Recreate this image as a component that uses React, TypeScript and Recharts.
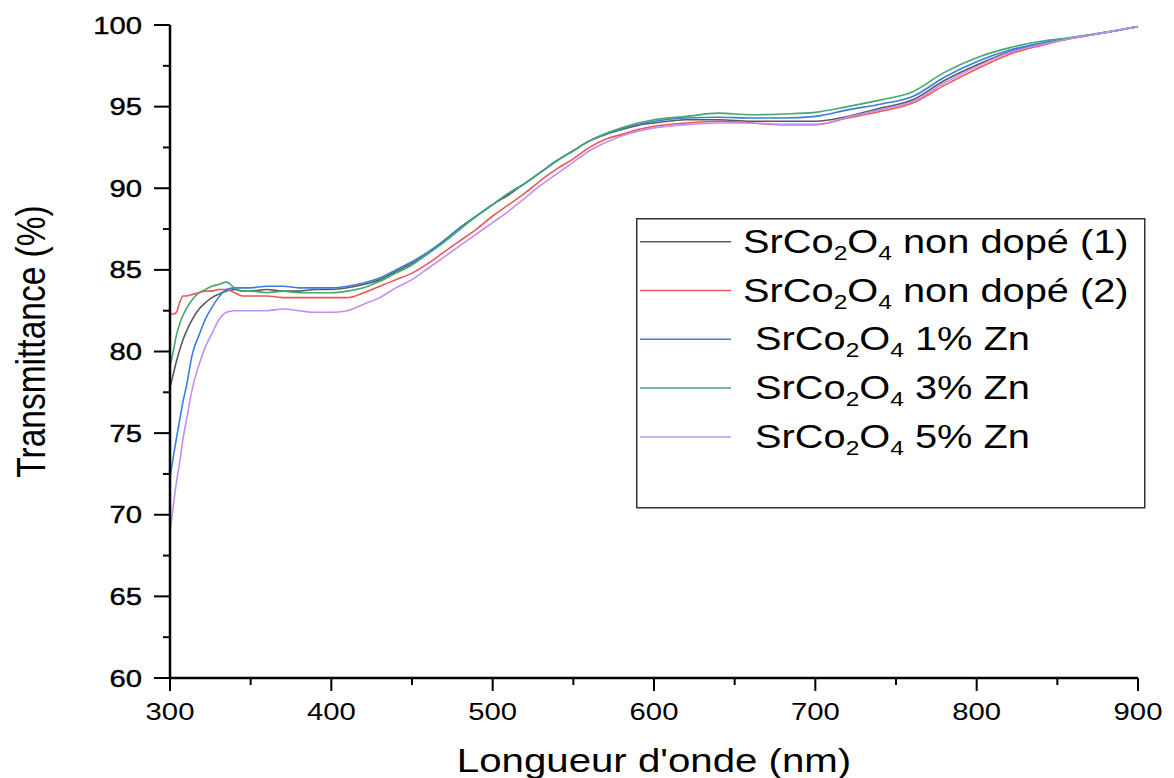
import { LineChart, Line, XAxis, YAxis, Legend } from 'recharts';

const wavelengths = [
  300, 302, 304, 306, 308, 310, 314, 318, 322, 326, 330, 335, 340, 345, 350,
  360, 370, 380, 390, 400, 410, 420, 430, 440, 450, 460, 470, 480, 490, 500,
  510, 520, 530, 540, 550, 560, 570, 580, 590, 600, 620, 640, 660, 680, 700,
  720, 740, 760, 780, 800, 820, 840, 860, 880, 900,
];

const nonDope1 = [
  77.8, 78.6, 79.4, 80.1, 80.7, 81.2, 82.0, 82.6, 83.0, 83.3, 83.5, 83.7, 83.8, 83.7, 83.7,
  83.8, 83.7, 83.7, 83.8, 83.8, 83.9, 84.1, 84.4, 84.9, 85.4, 86.0, 86.8, 87.6, 88.3, 89.0,
  89.6, 90.3, 91.0, 91.7, 92.3, 92.9, 93.3, 93.6, 93.85, 94.0, 94.2, 94.2, 94.1, 94.1, 94.1,
  94.4, 94.9, 95.4, 96.6, 97.55, 98.35, 98.85, 99.2, 99.55, 99.9,
];

const nonDope2 = [
  82.3, 82.3, 82.4, 83.0, 83.4, 83.4, 83.5, 83.6, 83.7, 83.7, 83.8, 83.8, 83.6, 83.4, 83.4,
  83.4, 83.3, 83.3, 83.3, 83.3, 83.3, 83.6, 84.0, 84.4, 84.8, 85.4, 86.1, 86.8, 87.5, 88.3,
  89.0, 89.7, 90.5, 91.2, 91.8, 92.5, 93.0, 93.3, 93.6, 93.8, 94.0, 94.1, 94.0, 93.9, 93.9,
  94.3, 94.7, 95.2, 96.3, 97.3, 98.2, 98.75, 99.2, 99.55, 99.9,
];

const zn1 = [
  72.3, 73.5, 74.7, 75.8, 76.9, 77.8, 79.9, 81.0, 82.0, 82.7, 83.3, 83.8, 83.9, 83.9, 83.9,
  84.0, 84.0, 83.9, 83.9, 83.9, 84.0, 84.2, 84.5, 85.0, 85.5, 86.1, 86.8, 87.6, 88.3, 89.0,
  89.7, 90.3, 91.0, 91.7, 92.3, 92.9, 93.3, 93.65, 93.9, 94.1, 94.3, 94.35, 94.3, 94.3, 94.4,
  94.8, 95.15, 95.6, 96.8, 97.75, 98.45, 98.9, 99.25, 99.55, 99.9,
];

const zn3 = [
  79.1, 80.0, 81.0, 81.7, 82.2, 82.6, 83.2, 83.6, 83.8, 84.0, 84.1, 84.25, 83.9, 83.7, 83.7,
  83.6, 83.7, 83.6, 83.6, 83.6, 83.7, 83.9, 84.3, 84.8, 85.3, 86.0, 86.7, 87.5, 88.3, 89.0,
  89.7, 90.3, 91.0, 91.7, 92.3, 92.9, 93.35, 93.7, 94.0, 94.2, 94.4, 94.6, 94.5, 94.55, 94.65,
  95.0, 95.4, 95.9, 97.1, 98.0, 98.6, 99.0, 99.25, 99.55, 99.9,
];

const zn5 = [
  69.0, 70.5, 72.0, 73.2, 74.6, 75.7, 77.8, 79.2, 80.3, 81.1, 81.9, 82.4, 82.5, 82.5, 82.5,
  82.5, 82.6, 82.5, 82.4, 82.4, 82.5, 82.9, 83.3, 83.9, 84.4, 85.1, 85.8, 86.5, 87.2, 87.9,
  88.6, 89.4, 90.2, 90.9, 91.6, 92.3, 92.8, 93.2, 93.5, 93.7, 93.9, 94.0, 94.0, 93.9, 93.9,
  94.35, 94.8, 95.3, 96.45, 97.45, 98.3, 98.8, 99.2, 99.55, 99.9,
];

const seriesKeys = ['d1', 'd2', 'z1', 'z3', 'z5'];
const seriesNames = ['SrCo2O4 non dopé (1)', 'SrCo2O4 non dopé (2)', 'SrCo2O4 1% Zn', 'SrCo2O4 3% Zn', 'SrCo2O4 5% Zn'];
const legendSuffixes = [' non dopé (1)', ' non dopé (2)', ' 1% Zn', ' 3% Zn', ' 5% Zn'];
const seriesColors = ['#5a5a5a', '#f05555', '#3b7de0', '#45a86c', '#c28ff0'];

const xTicks = [300, 350, 400, 450, 500, 550, 600, 650, 700, 750, 800, 850, 900];
const yTicks = [60, 62.5, 65, 67.5, 70, 72.5, 75, 77.5, 80, 82.5, 85, 87.5, 90, 92.5, 95, 97.5, 100];

const data = wavelengths.map((w, i) => ({
  w,
  d1: nonDope1[i],
  d2: nonDope2[i],
  z1: zn1[i],
  z3: zn3[i],
  z5: zn5[i],
}));

const FONT = '"Liberation Sans", Arial, sans-serif';
const STRETCH = 1.22;

function XTick(props: any) {
  const { x, y, payload } = props;
  const major = payload.value % 100 === 0;
  return (
    <g>
      <line x1={x} y1={y} x2={x} y2={y + (major ? 13 : 7)} stroke="#000" strokeWidth={2} />
      {major && (
        <text
          transform={`translate(${x},${y + 25}) scale(${STRETCH},1)`}
          textAnchor="middle"
          dy="0.71em"
          fontSize={24}
          fontFamily={FONT}
          fill="#000"
        >
          {payload.value}
        </text>
      )}
    </g>
  );
}

function YTick(props: any) {
  const { x, y, payload } = props;
  const major = payload.value % 5 === 0;
  return (
    <g>
      <line x1={x - (major ? 16 : 7)} y1={y} x2={x} y2={y} stroke="#000" strokeWidth={2} />
      {major && (
        <text
          transform={`translate(${x - 28},${y}) scale(${STRETCH},1)`}
          textAnchor="end"
          dy="0.355em"
          fontSize={24}
          fontFamily={FONT}
          fill="#000"
          stroke="#000"
          strokeWidth={0.4}
        >
          {payload.value}
        </text>
      )}
    </g>
  );
}

function XTitle(props: any) {
  const { x, y, width } = props.viewBox;
  return (
    <text
      transform={`translate(${x + width / 2},${y + 94}) scale(1.2,1)`}
      textAnchor="middle"
      fontSize={33.5}
      fontFamily={FONT}
      fill="#000"
    >
      Longueur d'onde (nm)
    </text>
  );
}

function YTitle(props: any) {
  const { x, y, height } = props.viewBox;
  return (
    <text
      transform={`translate(${x + 31},${y + height / 2 - 10}) scale(1.2,1) rotate(-90)`}
      textAnchor="middle"
      dy="0.35em"
      fontSize={33.5}
      fontFamily={FONT}
      fill="#000"
    >
      Transmittance (%)
    </text>
  );
}

function LegendBox(props: any) {
  const payload = props.payload || [];
  return (
    <svg width={510} height={291} style={{ display: 'block' }}>
      <rect x={0.75} y={0.75} width={508} height={289} fill="#fff" stroke="#333" strokeWidth={1.5} />
      {payload.map((entry: any) => {
        const idx = seriesKeys.indexOf(entry.dataKey);
        const lineY = 23.7 + 48.8 * idx;
        const textX = idx < 2 ? 107 : 119;
        return (
          <g key={entry.dataKey}>
            <line x1={4} y1={lineY} x2={95} y2={lineY} stroke={entry.color} strokeWidth={1.5} />
            <text
              transform={`translate(${textX},${lineY + 11}) scale(1.17,1)`}
              fontSize={34}
              fontFamily={FONT}
              fill="#000"
              style={{ whiteSpace: 'pre' }}
            >
              SrCo
              <tspan fontSize={21} dy={7}>2</tspan>
              <tspan dy={-7}>O</tspan>
              <tspan fontSize={21} dy={7}>4</tspan>
              <tspan dy={-7}>{legendSuffixes[idx]}</tspan>
            </text>
          </g>
        );
      })}
    </svg>
  );
}

export default function App() {
  return (
    <div style={{ position: 'absolute', left: 0, top: 0, background: '#fff' }}>
      <LineChart width={1174} height={778} data={data} margin={{ top: 25, right: 36, left: 0, bottom: 0 }}>
        <XAxis
          dataKey="w"
          type="number"
          domain={[300, 900]}
          ticks={xTicks}
          interval={0}
          height={100}
          tickSize={0}
          tickMargin={0}
          tickLine={false}
          tick={<XTick />}
          axisLine={{ stroke: '#000', strokeWidth: 2.5 }}
          label={<XTitle />}
        />
        <YAxis
          type="number"
          domain={[60, 100]}
          ticks={yTicks}
          interval={0}
          width={170}
          tickSize={0}
          tickMargin={0}
          tickLine={false}
          tick={<YTick />}
          axisLine={{ stroke: '#000', strokeWidth: 2.5 }}
          label={<YTitle />}
        />
        <Legend
          layout="horizontal"
          verticalAlign="middle"
          align="center"
          wrapperStyle={{ position: 'absolute', left: 636, top: 218, width: 510, height: 291 }}
          content={<LegendBox />}
        />
        {seriesKeys.map((k, i) => (
          <Line
            key={k}
            dataKey={k}
            name={seriesNames[i]}
            type="monotone"
            stroke={seriesColors[i]}
            strokeWidth={1.6}
            dot={false}
            isAnimationActive={false}
          />
        ))}
      </LineChart>
    </div>
  );
}
